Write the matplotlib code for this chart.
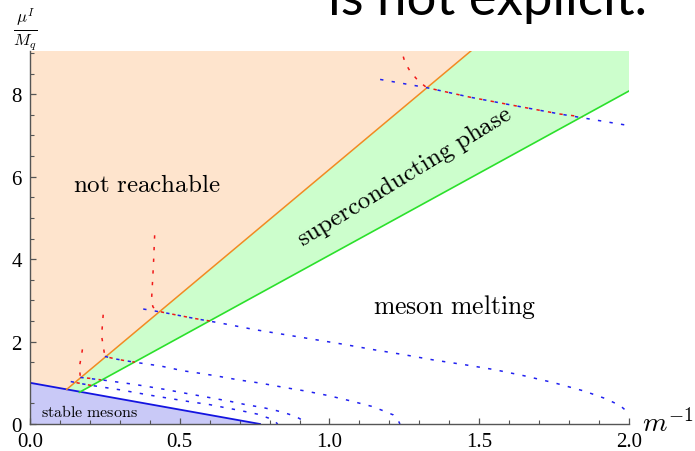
import matplotlib
matplotlib.use("Agg")
import matplotlib.pyplot as plt
from matplotlib.ticker import MultipleLocator

plt.rcParams['mathtext.fontset'] = 'cm'
plt.rcParams['lines.scale_dashes'] = False

# ---------------- data ----------------
x_max, y_max = 2.0, 9.05

stable_x = [0.0, 0.768]
stable_y = [1.0, 0.0]

orange_x = [0.1225, 1.472]
orange_y = [0.84, 9.05]

green_x = [0.165, 2.0]
green_y = [0.77, 8.08]

# blue dotted curves
c1_x = [1.169, 1.325, 1.469, 1.614, 1.77, 2.0]
c1_y = [8.36, 8.16, 7.93, 7.73, 7.52, 7.24]

c2_x = [0.378, 0.45, 0.55, 0.65, 0.75, 0.85, 0.95, 1.05, 1.15, 1.25, 1.35, 1.45,
        1.55, 1.65, 1.75, 1.85, 1.92, 1.97, 2.0]
c2_y = [2.79, 2.70, 2.56, 2.43, 2.29, 2.17, 2.05, 1.93, 1.80, 1.68, 1.55, 1.44,
        1.32, 1.17, 1.00, 0.80, 0.62, 0.45, 0.26]

c3_x = [0.25, 0.284, 0.323, 0.358, 0.395, 0.434, 0.473, 0.512, 0.55, 0.62, 0.696,
        0.771, 0.846, 0.92, 0.996, 1.068, 1.14, 1.18, 1.213, 1.23, 1.235]
c3_y = [1.64, 1.58, 1.53, 1.49, 1.45, 1.41, 1.35, 1.29, 1.25, 1.17, 1.07,
        0.99, 0.89, 0.80, 0.69, 0.565, 0.43, 0.32, 0.22, 0.08, 0.0]

c4_x = [0.168, 0.25, 0.35, 0.45, 0.52, 0.6, 0.668, 0.72, 0.777, 0.82, 0.851,
        0.888, 0.905, 0.916]
c4_y = [1.13, 1.06, 0.96, 0.84, 0.745, 0.64, 0.55, 0.47, 0.40, 0.33, 0.27,
        0.18, 0.11, 0.0]

c5_x = [0.136, 0.178, 0.211, 0.3, 0.4, 0.5, 0.534, 0.6, 0.649, 0.7, 0.759,
        0.796, 0.815, 0.827]
c5_y = [1.03, 0.97, 0.93, 0.83, 0.70, 0.58, 0.54, 0.47, 0.40, 0.33, 0.24,
        0.145, 0.08, 0.0]

# red dashed curves
r1_x = [1.241, 1.252, 1.269, 1.297, 1.325, 1.469, 1.614, 1.77, 1.846]
r1_y = [9.05, 8.77, 8.56, 8.32, 8.16, 7.93, 7.73, 7.52, 7.45]

r2_x = [0.417, 0.412, 0.406, 0.41, 0.42, 0.45, 0.55, 0.6]
r2_y = [4.72, 3.84, 3.03, 2.85, 2.75, 2.70, 2.56, 2.50]

r3_x = [0.248, 0.245, 0.239, 0.25, 0.284, 0.323, 0.35]
r3_y = [2.79, 2.71, 2.14, 1.64, 1.58, 1.53, 1.50]

r4_x = [0.178, 0.172, 0.165, 0.168, 0.211, 0.237]
r4_y = [1.95, 1.67, 1.39, 1.13, 1.10, 1.07]

r5_x = [0.136, 0.178, 0.205]
r5_y = [1.03, 0.97, 0.935]

x_ticks = [0.0, 0.5, 1.0, 1.5, 2.0]
x_tick_labels = ["0.0", "0.5", "1.0", "1.5", "2.0"]
y_ticks = [0, 2, 4, 6, 8]
y_tick_labels = ["0", "2", "4", "6", "8"]

# ---------------- figure ----------------
fig = plt.figure(figsize=(6.95, 4.52), dpi=100)
ax = fig.add_axes([30/695, 27/452, 599/695, 373/452])
ax.set_xlim(0, x_max)
ax.set_ylim(0, y_max)

col_orange_fill = '#FEE4CD'
col_green_fill = '#CCFECC'
col_blue_fill = '#C9C9F7'

# not reachable region
ax.fill([0, orange_x[0], orange_x[1], 0],
        [stable_y[0], orange_y[0], y_max, y_max],
        color=col_orange_fill, lw=0, zorder=0)
# superconducting region
ax.fill([orange_x[0], orange_x[1], x_max, x_max, green_x[0]],
        [orange_y[0], y_max, y_max, green_y[1], green_y[0]],
        color=col_green_fill, lw=0, zorder=0)
# stable mesons region
ax.fill([0, stable_x[0], stable_x[1]], [0, stable_y[0], stable_y[1]],
        color=col_blue_fill, lw=0, zorder=1)

ax.plot(stable_x, stable_y, color='#1414E0', lw=1.3, zorder=3)
ax.plot(orange_x, orange_y, color='#F28A22', lw=1.1, zorder=3)
ax.plot(green_x, green_y, color='#2BE02B', lw=1.2, zorder=3)

blue_ls = (0, (2.4, 6.0))
red_ls = (4.2, (2.4, 6.0))
for cx, cy in [(c1_x, c1_y), (c2_x, c2_y), (c3_x, c3_y), (c4_x, c4_y), (c5_x, c5_y)]:
    ax.plot(cx, cy, color='#2020F0', lw=1.1, ls=blue_ls, zorder=4)
for rx, ry in [(r1_x, r1_y), (r2_x, r2_y), (r3_x, r3_y), (r4_x, r4_y), (r5_x, r5_y)]:
    ax.plot(rx, ry, color='#F01818', lw=1.1, ls=red_ls, zorder=5)

# region labels
ax.text(0.39, 5.82, r'$\mathrm{not\ reachable}$', fontsize=18,
        ha='center', va='center', zorder=6)
ax.text(1.417, 2.86, r'$\mathrm{meson\ melting}$', fontsize=18.5,
        ha='center', va='center', zorder=6)
ax.text(1.25, 6.02, r'$\mathrm{superconducting\ phase}$', fontsize=18,
        ha='center', va='center', rotation=31.5, rotation_mode='anchor', zorder=6)
ax.text(0.199, 0.32, r'$\mathrm{stable\ mesons}$', fontsize=11.5,
        ha='center', va='center', zorder=6)

# axes styling
for s in ['top', 'right']:
    ax.spines[s].set_visible(False)
for s in ['left', 'bottom']:
    ax.spines[s].set_color('#555555')
    ax.spines[s].set_linewidth(1.0)
    ax.spines[s].set_zorder(7)

ax.set_xticks(x_ticks)
ax.set_xticklabels(x_tick_labels)
ax.set_yticks(y_ticks)
ax.set_yticklabels(y_tick_labels)
ax.xaxis.set_minor_locator(MultipleLocator(0.1))
ax.yaxis.set_minor_locator(MultipleLocator(0.5))
ax.tick_params(which='major', direction='in', length=4.3, width=0.9, color='#555555',
               labelsize=15, pad=6)
ax.tick_params(which='minor', direction='in', length=2.8, width=0.8, color='#555555')
for lab in ax.get_xticklabels() + ax.get_yticklabels():
    lab.set_family('Liberation Serif')

fig.text(25/695, 1 - 29/452, r'$\frac{\mu^I}{M_q}$', fontsize=17,
         ha='center', va='center')
fig.text(668/695, 1 - 424/452, r'$m^{-1}$', fontsize=20,
         ha='center', va='center')

fig.text(328/695, 1 - 15/452, 'is not explicit.', fontsize=38,
         family='Lato', ha='left', va='baseline')

fig.savefig('out.png', dpi=100)
